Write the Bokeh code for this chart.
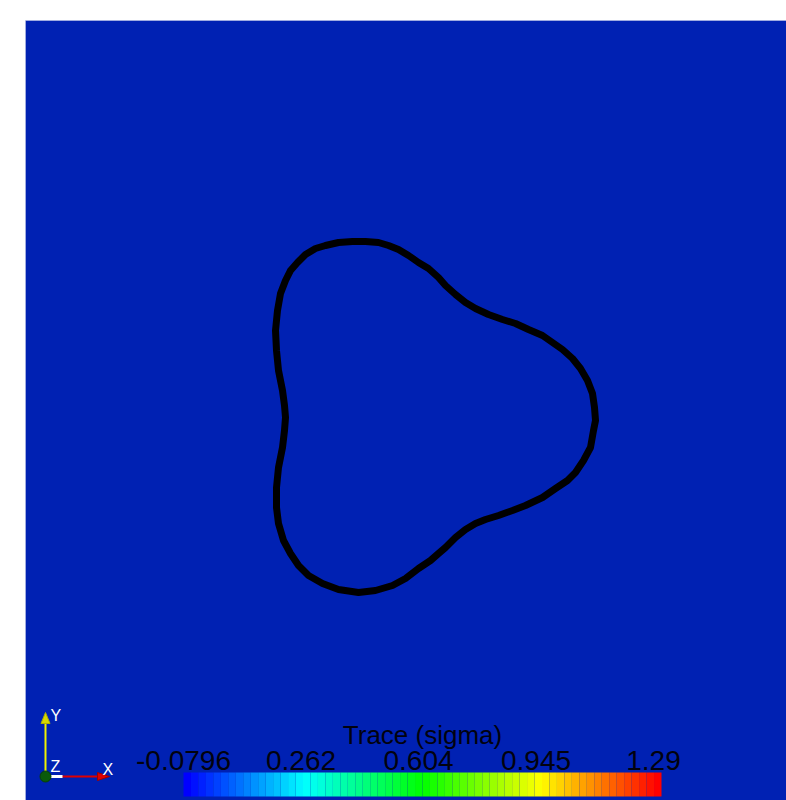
from bokeh.plotting import figure
from bokeh.models import Range1d, Span, LinearColorMapper, ColumnDataSource
from bokeh.core.properties import value
from bokeh.transform import transform
from bokeh.embed import file_html
from bokeh.resources import INLINE

# ---- data -------------------------------------------------------------
# contour line of Trace(sigma) (view units)
contour_x = [300, 313, 327, 340, 353, 363, 373, 383, 393, 403, 413, 420, 430, 440,
             450, 463, 477, 490, 503, 517, 527, 537, 547, 555, 562, 567, 569, 570,
             568, 565, 558, 550, 542, 530, 517, 500, 487, 473, 460, 450, 440, 430,
             420, 413, 405, 393, 380, 367, 350, 333, 313, 297, 283, 273, 265, 258,
             253, 251, 251, 253, 257, 259, 260, 259, 257, 253, 251, 250, 252, 255,
             260, 265, 272, 280, 290]
contour_y = [555, 558, 559, 559, 558, 555, 551, 545, 538, 532, 523, 515, 506, 498,
             492, 486, 481, 477, 471, 465, 458, 451, 442, 432, 420, 407, 393, 380,
             370, 353, 340, 328, 320, 312, 303, 295, 290, 285, 281, 277, 271, 263,
             253, 247, 240, 232, 222, 215, 210, 208, 211, 217, 225, 235, 247, 260,
             277, 293, 313, 333, 353, 370, 383, 395, 410, 430, 450, 470, 490, 507,
             520, 530, 538, 546, 552]

# color legend
scalar_min = -0.0796
scalar_max = 1.29
tick_labels = ["-0.0796", "0.262", "0.604", "0.945", "1.29"]
legend_title = "Trace (sigma)"
n_colors = 64
rainbow_stops = [(0, 0, 255), (0, 255, 255), (0, 255, 0), (255, 255, 0), (255, 0, 0)]

# ---- style ------------------------------------------------------------
BG = "#0021b3"
FONT = value("Liberation Sans")
TXT = "#02020e"


def make_palette(stops, n):
    pal = []
    segs = len(stops) - 1
    for i in range(n):
        t = i / (n - 1) * segs
        k = min(int(t), segs - 1)
        f = t - k
        c = [round(stops[k][j] + (stops[k + 1][j] - stops[k][j]) * f) for j in range(3)]
        pal.append("#%02x%02x%02x" % tuple(c))
    return pal


palette = make_palette(rainbow_stops, n_colors)

p = figure(width=786, height=800, output_backend="svg", toolbar_location=None,
           x_range=Range1d(0, 761), y_range=Range1d(0, 780),
           x_axis_type=None, y_axis_type=None,
           min_border_left=25, min_border_top=20, min_border_right=0, min_border_bottom=0,
           background_fill_color=BG, border_fill_color="white", outline_line_color=None)

p.add_layout(Span(location=780, dimension="width", line_color="#c4c9e8", line_width=1))
p.add_layout(Span(location=0, dimension="height", line_color="#c4c9e8", line_width=1))

# contour line
cx = contour_x + [contour_x[0]]
cy = contour_y + [contour_y[0]]
p.line(cx, cy, line_color="black", line_width=7, line_join="round", line_cap="round")

# ---- scalar bar -------------------------------------------------------
bar_x0, bar_w = 158, 478
bar_y0, bar_y1 = 4, 28
span = scalar_max - scalar_min
step = span / n_colors
band_vals = [scalar_min + (i + 0.5) * step for i in range(n_colors)]
mapper = LinearColorMapper(palette=palette, low=scalar_min, high=scalar_max)


def vx(v):
    return bar_x0 + (v - scalar_min) / span * bar_w


src = ColumnDataSource(dict(left=[vx(v - step / 2) for v in band_vals],
                            right=[vx(v + step / 2) for v in band_vals],
                            v=band_vals))
p.quad(left="left", right="right", bottom=bar_y0, top=bar_y1, source=src,
       fill_color=transform("v", mapper), line_color=None)

label_span = bar_w - 8
lx = [bar_x0 + i * label_span / (len(tick_labels) - 1) for i in range(len(tick_labels))]
p.text(x=lx, y=[40] * len(lx), text=tick_labels, text_font=FONT, text_font_size="28px",
       text_color=TXT, text_align="center", text_baseline="alphabetic")
p.text(x=[bar_x0 + bar_w / 2], y=[66], text=[legend_title], text_font=FONT,
       text_font_size="26px", text_color=TXT, text_align="center",
       text_baseline="alphabetic")

# ---- orientation axes triad ------------------------------------------
ox, oy = 20, 24
p.line([ox, ox], [oy, 78], line_color="#f0f000", line_width=2)
p.patch([ox - 4.5, ox + 4.5, ox], [77, 77, 88], fill_color="#d8d800", line_color="#b0b000")
p.line([ox + 5, 73], [oy, oy], line_color="#e00000", line_width=2)
p.patch([72, 72, 84], [oy + 4, oy - 4, oy], fill_color="#e00000", line_color="#a00000")
p.line([ox + 5, ox + 17], [oy, oy], line_color="white", line_width=3)
p.scatter([ox], [oy], size=11, fill_color="#0a5a0a", line_color="#084008")
p.text(x=[25, 25, 77], y=[85, 34, 31], text=["Y", "Z", "X"], text_font=FONT,
       text_font_size="16px", text_color="white", text_align="left",
       text_baseline="alphabetic")

open("out.html", "w").write(file_html(p, INLINE))
